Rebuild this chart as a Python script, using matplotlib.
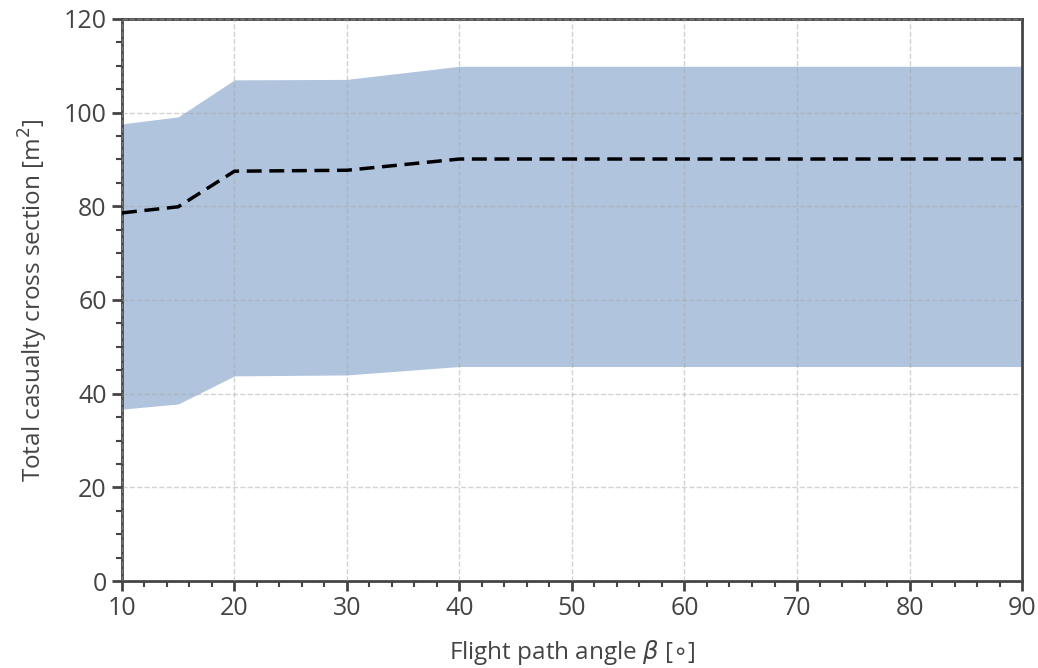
import matplotlib
matplotlib.use("Agg")
import matplotlib.pyplot as plt
from matplotlib.ticker import MultipleLocator

# flight path angle [deg]
beta = [10, 15, 20, 30, 40, 50, 60, 70, 80, 90]
# casualty cross section [m^2]
upper = [97.6, 99.1, 107.0, 107.1, 109.9, 109.9, 109.9, 109.9, 109.9, 109.9]
mean = [78.6, 79.9, 87.5, 87.7, 90.1, 90.1, 90.1, 90.1, 90.1, 90.1]
lower = [36.7, 37.8, 43.8, 44.0, 45.8, 45.8, 45.8, 45.8, 45.8, 45.8]

plt.rcParams['font.family'] = ['Open Sans', 'DejaVu Sans']
plt.rcParams['mathtext.fontset'] = 'dejavusans'
txt = '#444444'

fig = plt.figure(figsize=(10.38, 6.68), dpi=100)
ax = fig.add_axes([0.1175, 0.1302, 0.8671, 0.8414])

ax.fill_between(beta, lower, upper, color='#b0c4de', lw=0, zorder=1)
ax.plot(beta, mean, color='black', ls=(0, (4.3, 2.2)), lw=2.5, zorder=3)

ax.set_xlim(10, 90)
ax.set_ylim(0, 120)
ax.xaxis.set_major_locator(MultipleLocator(10))
ax.xaxis.set_minor_locator(MultipleLocator(2))
ax.yaxis.set_major_locator(MultipleLocator(20))
ax.yaxis.set_minor_locator(MultipleLocator(5))

ax.grid(True, which='major', ls='--', color='#a8a8a8', alpha=0.5, lw=1, zorder=2)
ax.set_axisbelow(False)

for s in ax.spines.values():
    s.set_color(txt)
    s.set_linewidth(2)
ax.tick_params(which='major', direction='out', length=7, width=2, color=txt,
               labelsize=18, labelcolor=txt, pad=4)
ax.tick_params(which='minor', direction='out', length=4, width=1.5, color=txt)

ax.set_xlabel(r'Flight path angle $\beta$ [$\circ$]', fontsize=17.5, color=txt, labelpad=12)
ax.set_ylabel(r'Total casualty cross section [m$^2$]', fontsize=17.5, color=txt, labelpad=10)

fig.savefig('out.png', dpi=100)
